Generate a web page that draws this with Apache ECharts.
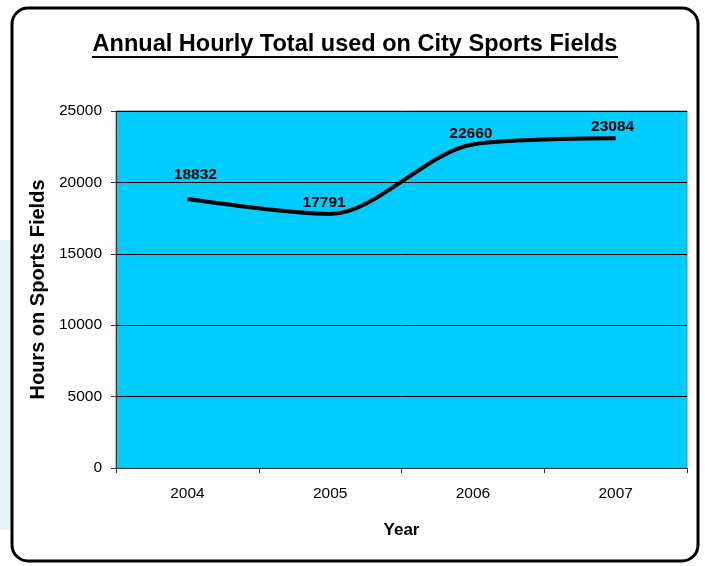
<!DOCTYPE html>
<html><head><meta charset="utf-8">
<script src="https://cdn.jsdelivr.net/npm/echarts@6/dist/echarts.min.js"></script>
<style>html,body{margin:0;padding:0;background:#fff}#c{width:705px;height:566px}</style>
</head><body><div id="c"></div>
<script>
const titleText = 'Annual Hourly Total used on City Sports Fields';
const years = ['2004', '2005', '2006', '2007'];
const hours = [18832, 17791, 22660, 23084];
const yTicks = [0, 5000, 10000, 15000, 20000, 25000];
const labelOffsets = [[8, -24], [-6, -11], [-2, -11], [-3, -12]];

const chart = echarts.init(document.getElementById('c'), null, {renderer: 'canvas'});
const font2 = "'Liberation Sans', Arial, sans-serif";
chart.setOption({
  animation: false,
  backgroundColor: '#fff',
  graphic: [
    {type: 'rect', z: -10, shape: {x: 0, y: 240, width: 14, height: 290}, style: {fill: '#E6F2FA'}},
    {type: 'rect', z: -5, shape: {x: 12, y: 8, width: 686, height: 553, r: 16}, style: {fill: '#fff', stroke: '#000', lineWidth: 3}},
    {type: 'text', x: 355, y: 44, scaleX: 0.98, scaleY: 1,
      style: {text: titleText, font: "bold 24px " + font2, fill: '#000', align: 'center', verticalAlign: 'middle'}},
    {type: 'rect', shape: {x: 92, y: 56, width: 526, height: 2}, style: {fill: '#000'}}
  ],
  grid: {left: 116, right: 18, top: 111, bottom: 98, show: true, backgroundColor: '#00CCFF', borderColor: '#808080', borderWidth: 1},
  xAxis: {
    type: 'category', data: years, boundaryGap: true,
    name: 'Year', nameLocation: 'middle', nameGap: 54,
    nameTextStyle: {fontFamily: font2, fontWeight: 'bold', fontSize: 17, color: '#000'},
    axisLine: {lineStyle: {color: '#333', width: 1}},
    axisTick: {show: true, length: 5, lineStyle: {color: '#333'}},
    axisLabel: {fontFamily: font2, fontSize: 15.5, color: '#000', margin: 18}
  },
  yAxis: {
    type: 'value', min: yTicks[0], max: yTicks[yTicks.length - 1], interval: yTicks[1] - yTicks[0],
    name: 'Hours on Sports Fields', nameLocation: 'middle', nameGap: 65, nameRotate: 90,
    nameTextStyle: {fontFamily: font2, fontWeight: 'bold', fontSize: 20, color: '#000'},
    axisLine: {show: true, lineStyle: {color: '#333', width: 1}},
    axisTick: {show: true, length: 5, lineStyle: {color: '#333'}},
    axisLabel: {fontFamily: font2, fontSize: 15.5, color: '#000', margin: 14, formatter: v => String(v)},
    splitLine: {lineStyle: {color: '#000', width: 1}}
  },
  series: [{
    type: 'line', data: hours.map((v, i) => ({
      value: v,
      label: {offset: labelOffsets[i]}
    })), smooth: 0.3, symbol: 'circle', symbolSize: 1, showSymbol: true,
    itemStyle: {color: 'rgba(0,0,0,0)'},
    lineStyle: {color: '#000', width: 4},
    label: {show: true, position: 'inside', fontFamily: font2, fontWeight: 'bold', fontSize: 15.5, color: '#000'}
  }]
});
</script></body></html>
